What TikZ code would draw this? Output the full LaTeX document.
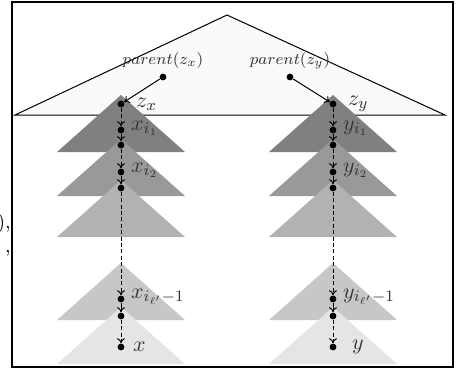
\documentclass[tikz,border=0pt]{standalone}
\usepackage{amsmath}
\usetikzlibrary{arrows.meta,positioning}

\begin{document}
\begin{tikzpicture}[x=0.5pt,y=-0.5pt,
  every node/.style={font=\normalsize},
  dot/.style={circle, fill=black, inner sep=0pt, minimum size=3.4pt},
  lbl/.style={text=black!80, inner sep=1pt, font=\fontsize{11}{13}\selectfont},
  plbl/.style={text=black!80, font=\footnotesize, inner sep=1pt},
  arr/.style={-{To[length=2.5pt,width=4pt]}, line width=0.5pt},
  dasharr/.style={arr, dash pattern=on 2pt off 1.2pt}
]
\useasboundingbox (0,0) rectangle (460,370);

% top tree
\filldraw[fill=black!2, draw=black, line width=0.5pt] (227,15) -- (445,115) -- (15,115) -- cycle;

% subtrees
\foreach \cx in {121,333}
  \foreach \ty/\shade in {95/50, 139/40, 180/30, 263/22, 307/10}
    \fill[black!\shade] (\cx,\ty) -- ++(64,57) -- ++(-128,0) -- cycle;

% paths
\foreach \c/\cx in {x/121, y/333} {
  \node[dot] (z\c) at (\cx,104) {};
  \node[dot] (\c a) at (\cx,130) {};
  \node[dot] (\c b) at (\cx,145) {};
  \node[dot] (\c c) at (\cx,172) {};
  \node[dot] (\c d) at (\cx,188) {};
  \node[dot] (\c e) at (\cx,299) {};
  \node[dot] (\c f) at (\cx,316) {};
  \node[dot] (\c\c) at (\cx,347) {};
  \draw[dasharr] (z\c)--(\c a);
  \draw[arr] (\c a)--(\c b);
  \draw[dasharr] (\c b)--(\c c);
  \draw[arr] (\c c)--(\c d);
  \draw[dasharr] (\c d)--(\c e);
  \draw[arr] (\c e)--(\c f);
  \draw[dasharr] (\c f)--(\c\c);
  \node[lbl, right=4.5pt of z\c] (z\c l) {$z_\c$};
  \node[lbl, right=2pt of \c a, yshift=1pt] (\c al) {$\c_{i_1}$};
  \node[lbl, right=2pt of \c c, yshift=1pt] (\c cl) {$\c_{i_2}$};
  \node[lbl, right=2pt of \c e, yshift=1pt] (\c el) {$\c_{i_{\ell'}-1}$};
}
\node[lbl, right=3pt of xx] (xxl) {$x$};
\node[lbl, right=6.5pt of yy] (yyl) {$y$};

% parents
\node[dot] (px) at (163,77) {};
\node[dot] (py) at (290,77) {};
\node[plbl, above=1pt of px] (pxl) {$parent(z_x)$};
\node[plbl, above=1pt of py] (pyl) {$parent(z_y)$};
\draw[arr] (px)--(zx);
\draw[arr] (py)--(zy);

% cut-off text at the left
\node[anchor=base east, inner sep=0pt] (cuta) at (11,228) {),};
\node[anchor=base east, inner sep=0pt] (cutb) at (11,252) {,};

\draw[line width=1pt] (12,2) rectangle (453,367);
\end{tikzpicture}
\end{document}
